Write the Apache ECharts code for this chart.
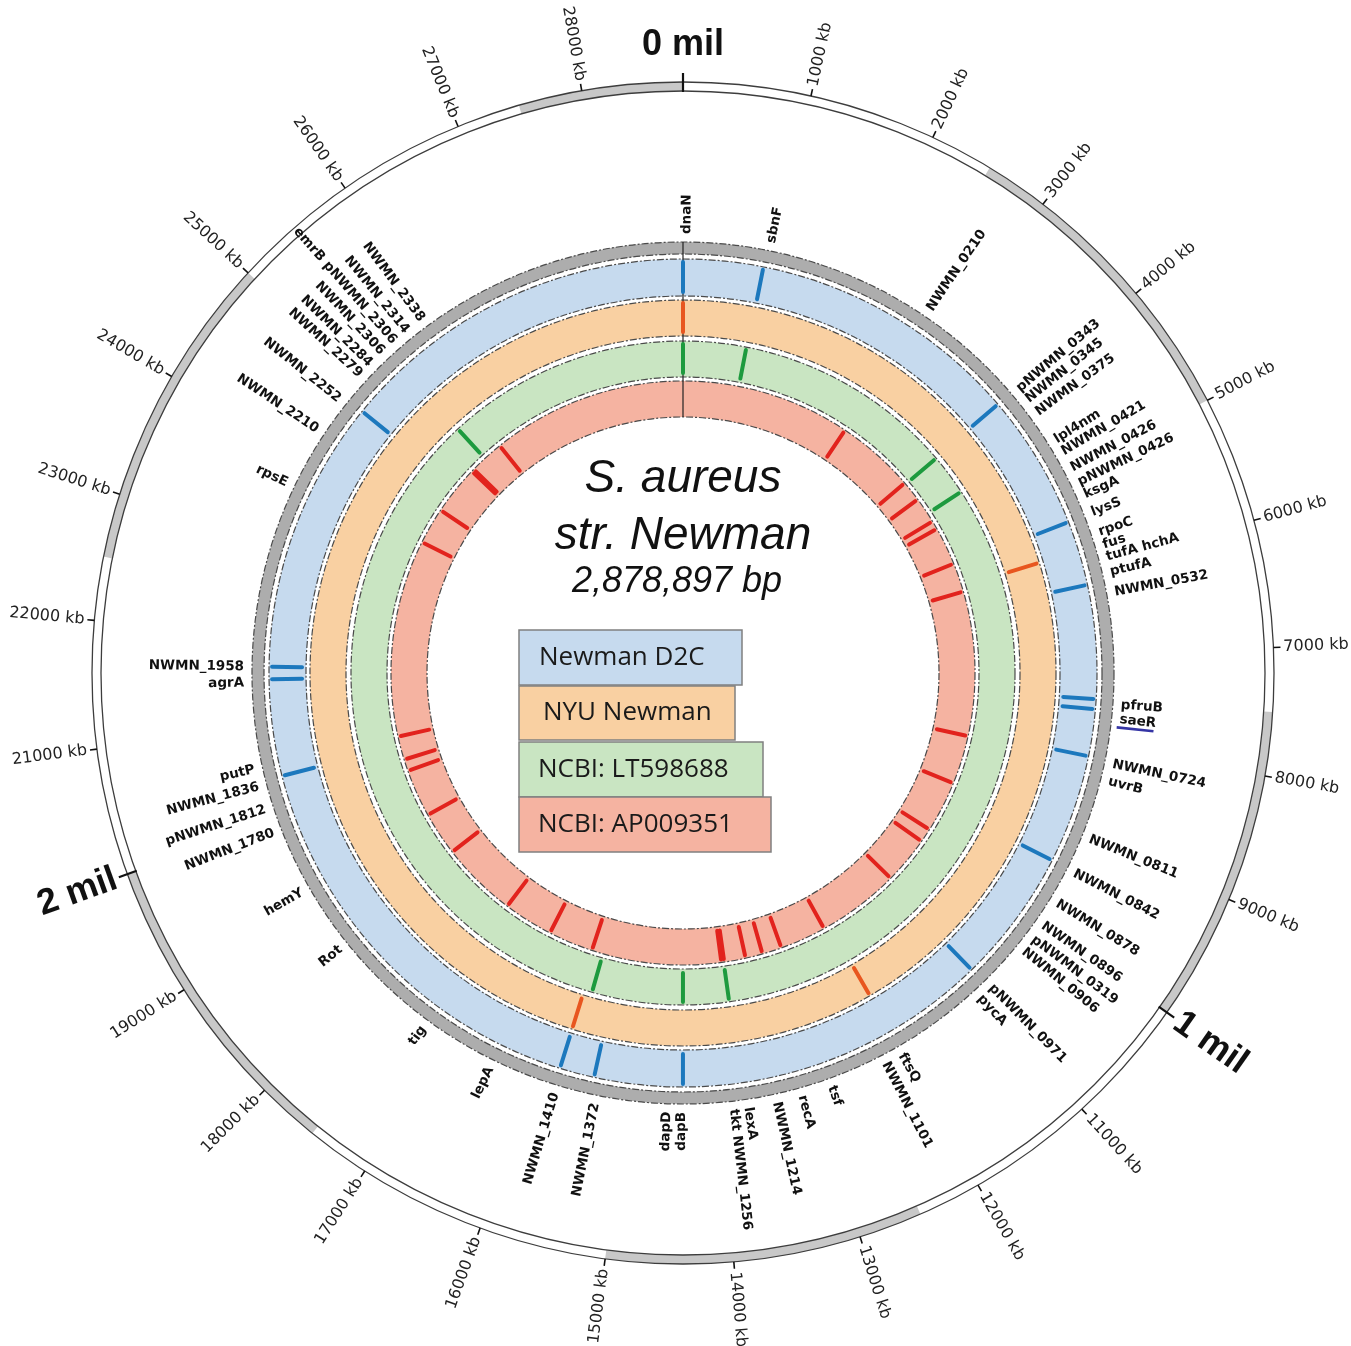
<!DOCTYPE html>
<html><head><meta charset="utf-8">
<script src="https://cdn.jsdelivr.net/npm/echarts@6/dist/echarts.min.js"></script>
<style>html,body{margin:0;padding:0;background:#fff}#c{width:1351px;height:1346px}</style>
</head><body><div id="c"></div>
<script>
// genome length in 100-bp units (2,878,897 bp)
const GENOME_SIZE = 28789;

const tickValues = [1000,2000,3000,4000,5000,6000,7000,8000,9000,11000,12000,13000,14000,15000,16000,17000,18000,19000,21000,22000,23000,24000,25000,26000,27000,28000];
const tickLabels = ['1000 kb','2000 kb','3000 kb','4000 kb','5000 kb','6000 kb','7000 kb','8000 kb','9000 kb','11000 kb','12000 kb','13000 kb','14000 kb','15000 kb','16000 kb','17000 kb','18000 kb','19000 kb','21000 kb','22000 kb','23000 kb','24000 kb','25000 kb','26000 kb','27000 kb','28000 kb'];
const milValues = [0, 10000, 20000];
const milLabels = ['0 mil', '1 mil', '2 mil'];

const bandStarts = [2500, 7500, 12500, 17500, 22500, 27500];
const bandEnds = [5000, 10000, 15000, 20000, 25000, 28789];

const trackNames = ['Newman D2C', 'NYU Newman', 'NCBI: LT598688', 'NCBI: AP009351'];
const d2cMarks = [0, 896, 3960, 5486, 6213, 7486, 7598, 8125, 9349, 10860, 14395, 15387, 15777, 20440, 21523, 21661, 24727];
const nyuMarks = [0, 5822, 11988, 15778];
const lt598688Marks = [0, 881, 3974, 4551, 13755, 14395, 15667, 25374];
const ap009351Marks = [2695, 3950, 4278, 4694, 4830, 5438, 5902, 8196, 8972, 9790, 10012, 10770, 12084, 12820, 13131, 13404, 13745, 13790, 15849, 16562, 17354, 18570, 19265, 20025, 20211, 20585, 23720, 24303, 25087, 25128, 25678];

const geneNames = ['dnaN','sbnF','NWMN_0210','pNWMN_0343','NWMN_0345','NWMN_0375','lpl4nm','NWMN_0421','NWMN_0426','pNWMN_0426','ksgA','lysS','rpoC','fus','tufA hchA','ptufA','NWMN_0532','pfruB','saeR','NWMN_0724','uvrB','NWMN_0811','NWMN_0842','NWMN_0878','NWMN_0896','pNWMN_0319','NWMN_0906','pNWMN_0971','pycA','ftsQ','NWMN_1101','tsf','recA','NWMN_1214','lexA','tkt NWMN_1256','dapB','dapD','NWMN_1372','NWMN_1410','lepA','tig','Rot','hemY','NWMN_1780','pNWMN_1812','NWMN_1836','putP','agrA','NWMN_1958','rpsE','NWMN_2210','NWMN_2252','NWMN_2279','NWMN_2284','NWMN_2306','emrB pNWMN_2306','NWMN_2314','NWMN_2338'];
const genePositions = [40,928,2735,3983,4126,4295,4638,4782,4975,5142,5286,5486,5702,5842,5974,6134,6350,7533,7685,8157,8341,8973,9365,9725,9996,10172,10332,10836,10996,12011,12203,12815,13139,13411,13715,13867,14410,14563,15314,15746,16474,17289,18489,19201,19888,20145,20392,20576,21488,21656,23639,24279,24670,25007,25159,25334,25502,25670,25870];
const underlinedGenes = ['saeR'];

// ---- styles / layout ----
const TRACK_R = [[377, 414], [337, 373], [296, 332], [256, 292]];
const TRACK_FILL = ['#c6daee', '#f9d0a2', '#c9e5c2', '#f5b3a1'];
const MARK_COLOR = ['#1c78bd', '#e8561f', '#1d9a3e', '#e2231d'];
const MARK_INSET = [4, 3];
const LEGEND_BOX = [[519, 630, 223, 55], [519, 686, 216, 54], [519, 742, 244, 55], [519, 797, 252, 55]];
const LEGEND_TEXT_X = [539, 543, 538, 538];
const GENE_FONT = 'bold 13.5px "DejaVu Sans", Verdana, sans-serif';

function geo(params, api) {
  const cs = params.coordSys;
  return {
    cx: cs.cx, cy: cs.cy,
    p: (r, v) => api.coord([r, v]),
    ang: (v) => { const q = api.coord([100, v]); return Math.atan2(q[1] - cs.cy, q[0] - cs.cx); },
    rad: (r) => { const q = api.coord([r, 0]); return Math.hypot(q[0] - cs.cx, q[1] - cs.cy); }
  };
}
function textStyle(text, font, fill, al, val) {
  return { text, font, fill, align: al, verticalAlign: val, textAlign: al, textVerticalAlign: val };
}
function radialText(g, r, v, text, font, fill) {
  const pos = g.p(r, v);
  const phi = g.ang(v);
  const right = v < GENOME_SIZE / 2;
  const rot = right ? -phi : -(phi + Math.PI);
  const al = right ? 'left' : 'right';
  return { type: 'text', x: pos[0], y: pos[1], rotation: rot, style: textStyle(text, font, fill, al, 'middle') };
}
function dashedCircle(g, r, color) {
  return { type: 'circle', shape: { cx: g.cx, cy: g.cy, r: g.rad(r) }, style: { fill: 'none', stroke: color || '#4a4a4a', lineWidth: 1.2, lineDash: [7, 2, 2, 2] } };
}
function radialLine(g, r1, r2, v, color, w, cap) {
  const a = g.p(r1, v), b = g.p(r2, v);
  return { type: 'line', shape: { x1: a[0], y1: a[1], x2: b[0], y2: b[1] }, style: { stroke: color, lineWidth: w, lineCap: cap || 'butt' } };
}

function markSeries(idx, values) {
  return {
    type: 'custom', name: trackNames[idx], coordinateSystem: 'polar', animation: false, z: 4,
    data: values.map(v => [0, v]),
    renderItem: (params, api) => {
      const g = geo(params, api);
      const v = api.value(1);
      const [r0, r1] = TRACK_R[idx];
      return radialLine(g, r0 + MARK_INSET[0], r1 - MARK_INSET[1], v, MARK_COLOR[idx], 4, 'round');
    }
  };
}

const series = [
  // ideogram bands on the outer ring
  {
    type: 'custom', coordinateSystem: 'polar', animation: false, z: 1,
    data: bandStarts.map((s, i) => [s, bandEnds[i]]),
    renderItem: (params, api) => {
      const g = geo(params, api);
      return { type: 'sector', shape: { cx: g.cx, cy: g.cy, r0: g.rad(582), r: g.rad(591), startAngle: g.ang(api.value(0)), endAngle: g.ang(api.value(1)), clockwise: true }, style: { fill: '#c8c8c8' } };
    }
  },
  // static rings
  {
    type: 'custom', coordinateSystem: 'polar', animation: false, z: 2,
    data: [[0, 0]],
    renderItem: (params, api) => {
      const g = geo(params, api);
      const ch = [];
      ch.push({ type: 'circle', shape: { cx: g.cx, cy: g.cy, r: g.rad(582) }, style: { fill: 'none', stroke: '#3d3d3d', lineWidth: 1.3 } });
      ch.push({ type: 'circle', shape: { cx: g.cx, cy: g.cy, r: g.rad(591) }, style: { fill: 'none', stroke: '#3d3d3d', lineWidth: 1.3 } });
      ch.push({ type: 'ring', shape: { cx: g.cx, cy: g.cy, r0: g.rad(419), r: g.rad(431) }, style: { fill: '#adadad' } });
      ch.push(dashedCircle(g, 419)); ch.push(dashedCircle(g, 431));
      TRACK_R.forEach((tr, i) => {
        ch.push({ type: 'ring', shape: { cx: g.cx, cy: g.cy, r0: g.rad(tr[0]), r: g.rad(tr[1]) }, style: { fill: TRACK_FILL[i] } });
        ch.push(dashedCircle(g, tr[0])); ch.push(dashedCircle(g, tr[1]));
      });
      ch.push(radialLine(g, 256, 431, 0, '#222', 1.2));
      return { type: 'group', children: ch };
    }
  },
  markSeries(0, d2cMarks),
  markSeries(1, nyuMarks),
  markSeries(2, lt598688Marks),
  markSeries(3, ap009351Marks),
  // kb ticks
  {
    type: 'custom', coordinateSystem: 'polar', animation: false, z: 5,
    data: tickValues.map((v, i) => [i, v]),
    renderItem: (params, api) => {
      const g = geo(params, api);
      const i = api.value(0), v = api.value(1);
      return { type: 'group', children: [
        radialLine(g, 591, 598, v, '#111', 1.6),
        radialText(g, 601, v, tickLabels[i], '16px "DejaVu Sans", Verdana, sans-serif', '#222')
      ] };
    }
  },
  // mil ticks
  {
    type: 'custom', coordinateSystem: 'polar', animation: false, z: 5,
    data: milValues.map((v, i) => [i, v]),
    renderItem: (params, api) => {
      const g = geo(params, api);
      const i = api.value(0), v = api.value(1);
      const font = 'bold 36px "Liberation Sans", Arial, sans-serif';
      let label;
      if (v === 0) {
        const pos = g.p(628, v);
        label = { type: 'text', x: pos[0], y: pos[1], style: textStyle(milLabels[i], font, '#111', 'center', 'middle') };
      } else {
        label = radialText(g, 603, v, milLabels[i], font, '#111');
      }
      return { type: 'group', children: [radialLine(g, 581, 600, v, '#111', 2.2), label] };
    }
  },
  // gene labels
  {
    type: 'custom', coordinateSystem: 'polar', animation: false, z: 6,
    data: genePositions.map((v, i) => [i, v]),
    renderItem: (params, api) => {
      const g = geo(params, api);
      const i = api.value(0), v = api.value(1);
      const name = geneNames[i];
      const t = radialText(g, 439, v, name, GENE_FONT, '#111');
      if (underlinedGenes.indexOf(name) < 0) return t;
      const phi = g.ang(v);
      const ox = -Math.sin(phi) * 8, oy = Math.cos(phi) * 8;
      const a = g.p(437, v), b = g.p(474, v);
      return { type: 'group', children: [t, { type: 'line', shape: { x1: a[0] + ox, y1: a[1] + oy, x2: b[0] + ox, y2: b[1] + oy }, style: { stroke: '#3535a5', lineWidth: 2.6 } }] };
    }
  }
];

const graphic = [];
graphic.push({ type: 'text', x: 683, y: 479, style: textStyle('S. aureus', 'italic 46px "Liberation Sans", Arial, sans-serif', '#111', 'center', 'middle') });
graphic.push({ type: 'text', x: 683, y: 536, style: textStyle('str. Newman', 'italic 46px "Liberation Sans", Arial, sans-serif', '#111', 'center', 'middle') });
graphic.push({ type: 'text', x: 677, y: 582, style: textStyle('2,878,897 bp', 'italic 36px "Liberation Sans", Arial, sans-serif', '#111', 'center', 'middle') });
trackNames.forEach((n, i) => {
  const b = LEGEND_BOX[i];
  graphic.push({ type: 'rect', shape: { x: b[0], y: b[1], width: b[2], height: b[3] }, style: { fill: TRACK_FILL[i], stroke: '#808080', lineWidth: 1.5 } });
  graphic.push({ type: 'text', x: LEGEND_TEXT_X[i], y: b[1] + b[3] / 2, style: textStyle(n, '26px "Open Sans", "Noto Sans", sans-serif', '#1a1a1a', 'left', 'middle') });
});

const chart = echarts.init(document.getElementById('c'), null, { renderer: 'canvas' });
chart.setOption({
  animation: false,
  backgroundColor: '#ffffff',
  polar: { center: [683, 673], radius: [0, 591] },
  angleAxis: { type: 'value', min: 0, max: GENOME_SIZE, startAngle: 90, clockwise: true,
    axisLine: { show: false }, axisTick: { show: false }, axisLabel: { show: false }, splitLine: { show: false } },
  radiusAxis: { type: 'value', min: 0, max: 591,
    axisLine: { show: false }, axisTick: { show: false }, axisLabel: { show: false }, splitLine: { show: false } },
  series: series,
  graphic: graphic
});
</script>
</body></html>
